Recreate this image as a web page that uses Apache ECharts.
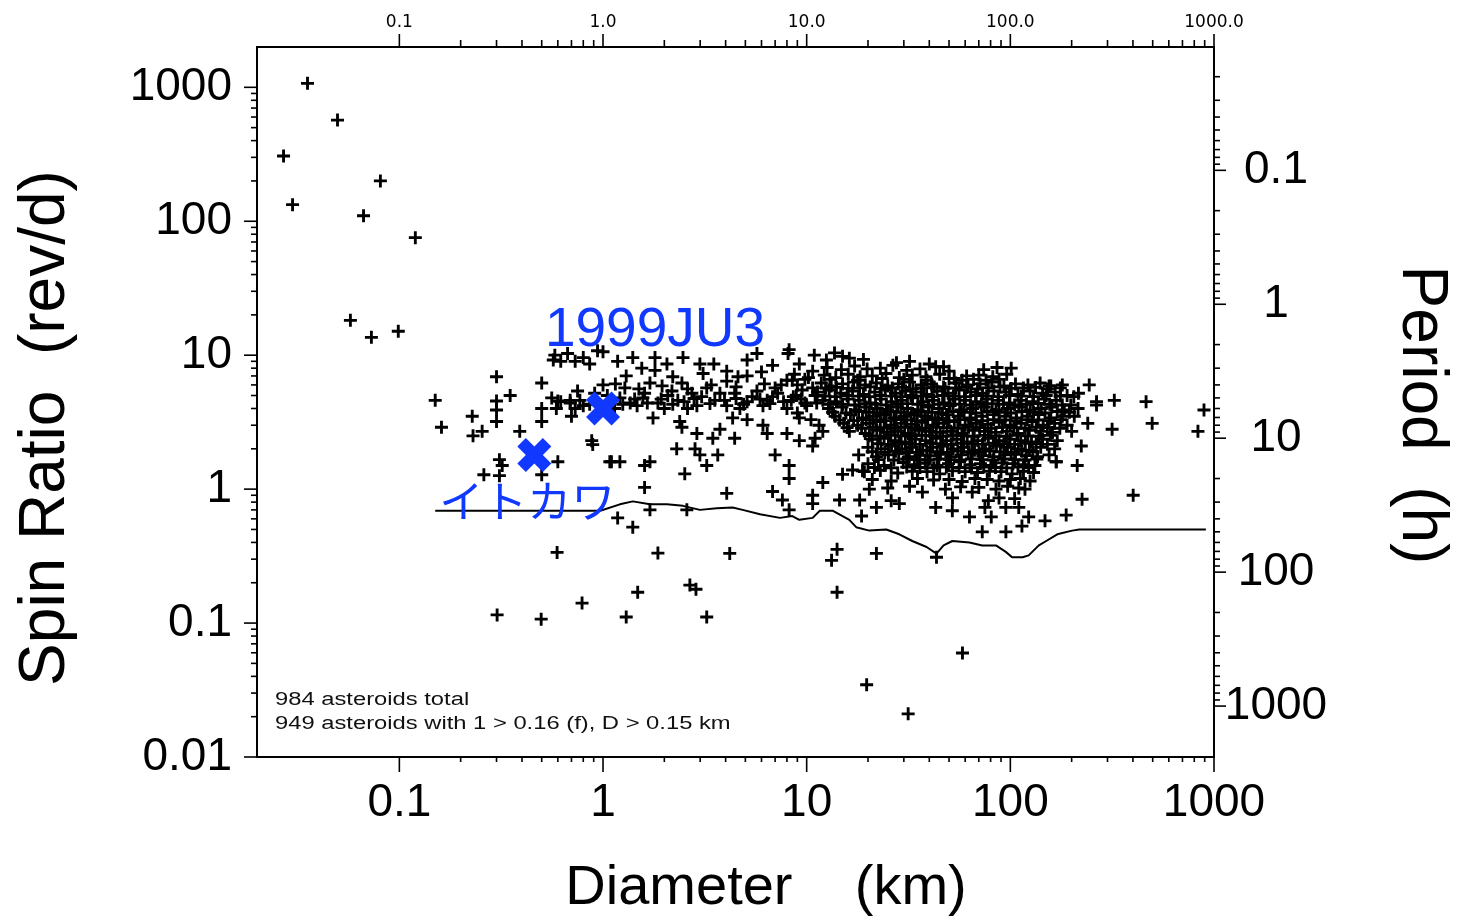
<!DOCTYPE html>
<html><head><meta charset="utf-8">
<script src="https://cdn.jsdelivr.net/npm/echarts@6/dist/echarts.min.js"></script>
<style>html,body{margin:0;padding:0;background:#fff}#c{width:1457px;height:922px}</style>
</head><body><div id="c"></div>
<script>
// ---------------- DATA (diameter km, spin rate rev/d) ----------------
const fastRotators = [[0.0354,1071],[0.0497,569],[0.027,307],[0.0807,200],[0.0299,133],[0.0667,110],[0.1198,75.4],[0.0575,18.2],[0.0729,13.6],[0.0988,15.1]];
const smallScatter = [[0.150,4.6],[0.161,2.9],[0.30,6.9],[0.35,5.0],[0.30,4.55],[0.30,3.9],[0.30,3.2],[0.50,6.2],[0.228,3.5],[0.23,2.5],[0.255,2.7],[0.39,2.7],[0.50,4.0],[0.50,3.2],[0.31,1.66],[0.32,1.5],[0.60,1.6],[0.26,1.28],[0.31,1.26],[0.50,1.28],[0.88,2.3],[0.89,2.15],[1.1,1.6],[0.69,4.6],[0.75,5.4],[0.80,4.2],[0.70,3.5],[0.60,4.55]];
const bandKm = [[0.58,10.0],[0.67,10.3],[0.80,9.6],[0.94,10.8],[0.62,9.0],[0.73,9.0],[0.86,8.6],[0.57,9.2],
 [1.0,10.6],[1.18,9.0],[1.40,9.6],[1.55,8.0],[1.8,9.6],[1.8,7.7],[2.06,8.6],[2.47,9.6],[2.99,8.6],[3.5,8.6],[4.05,7.6],[5.1,9.2],[5.1,7.0],[5.7,10.3],[6.8,8.4],[8.1,10.3],[8.0,6.5],[9.2,8.6],[10.7,7.6],[8.2,11],[10.9,10],
 [1.05,5.0],[1.28,5.7],[1.36,4.4],[1.57,4.8],[1.70,6.2],[1.86,4.4],[2.08,5.0],[2.33,4.6],[2.44,6.2],[2.73,5.2],[2.89,4.2],[3.23,5.7],[3.54,4.6],[4.05,6.4],[4.05,4.2],[4.43,5.2],[4.33,3.4],[5.1,4.5],[5.7,5.4],[6.1,4.2],[6.8,4.9],[7.5,6.0],[8.0,4.0],[8.9,5.0],[10,4.2],[10.7,5.7],[9.2,3.4],[1.76,3.4],[2.38,3.2],[1.14,4.0],[1.21,4.8],[1.47,4.2],[1.6,5.2],[2.0,4.0],[2.18,5.4],[2.6,4.0],[3.05,4.9],[3.75,5.2],[4.7,4.0],[5.4,4.9],[6.4,4.6],[7.2,5.2],[8.4,4.6],
 [1.1,4.6],[1.25,4.3],[1.43,4.7],[1.65,4.4],[1.93,4.7],[2.2,4.3],[2.5,4.5],[2.8,4.75],[3.35,4.35],[3.95,4.6],[4.5,4.75],[4.9,4.3],[5.9,4.7],[6.6,4.35],[7.7,4.5],[9.4,4.7],[11.2,4.4],
 [1.15,6.1],[1.5,5.6],[1.95,5.9],[2.6,5.6],[3.4,6.0],[4.5,5.8],[6.2,6.1],[7.0,5.7],[9.0,6.0],[9.8,6.6],[1.3,7.0],[2.2,6.9],[3.1,7.3],[4.6,6.9],[6.0,7.5],[8.7,7.2],
 [0.56,4.8],[0.62,4.5],[0.69,4.4],[0.77,4.6],[0.86,4.3],[0.59,4.0],[0.73,4.0],[0.91,5.2],[1.0,6.0],
 [8.5,6.5],[9.5,5.5],[10.2,6.8],[11,5.0],[9,3.7],[10.5,3.3],[11.5,3.0],[9.8,4.4],[8.6,4.9],[12,2.7],[11,2.4],
 [2.44,2.9],[2.89,2.6],[2.30,2.0],[2.83,2.0],[2.99,1.8],[3.23,1.5],[3.46,2.4],[3.75,2.8],[3.66,1.8],[4.43,2.4],[5.1,3.3],[6.1,3.0],[6.4,2.6],[7.0,1.8],[8.0,2.6],[9.2,2.3],[8.2,1.5],[8.2,1.2],[10.7,2.1],[1.08,1.6],[1.21,1.6],[1.6,1.5],[1.70,1.6],[2.52,1.3],[1.6,1.03],[4.05,0.93],[6.8,0.96],[7.6,0.83],[10.7,0.90],[10.7,0.78],[1.18,0.61],[1.40,0.52],[1.70,0.70],[2.58,0.70],[8.2,0.70]];
const cloudUpper = [
 [12.5,9.2],[13.7,10.4],[15,9.8],[16.2,9.5],[19,9.3],[27.6,8.8],[32,9.0],[40,8.6],[47,8.2],[101,8.0],
 [12.6,8.1],[14.8,7.8],[17.2,8.3],[19.8,7.9],[23,8.0],[26.5,8.4],[31,7.7],[36,7.9],[43,8.2],[50,7.6],[74,7.8],[86,8.1],
 [12.2,7.1],[13.9,6.8],[16,7.2],[18.3,6.9],[21,7.0],[24.5,7.3],[28.5,6.8],[33,7.1],[38.5,6.9],[45,7.2],[53,6.7],[61,7.0],[70,7.1],[82,6.9],[96,7.2],
 [13,6.6],[17.8,6.5],[23.5,6.7],[30,6.6],[39,6.5],[50,6.7],[58,6.5],[66,6.6],[76,6.5],[88,6.6],
 [11.8,6.2],[13.2,5.9],[15,6.1],[17,6.3],[19.4,6.0],[22,6.2],[25,5.9],[28.2,6.1],[32,6.3],[36.5,6.0],[41,6.1],[47,5.8],[54,6.2],[62,6.0],[71,6.1],[81,6.3],[93,5.9],[106,6.1],[122,6.0],[140,6.2],[158,5.9],[180,6.0],[244,6.0],
 [12.4,5.7],[14,5.75],[16,5.65],[18.2,5.7],[20.5,5.8],[23.2,5.65],[26.3,5.7],[29.5,5.75],[33.2,5.6],[37.5,5.7],[42.3,5.8],[47.8,5.65],[54,5.7],[61,5.75],[69,5.6],[78,5.7],[89,5.8],[101,5.65],[116,5.7],[133,5.75],[152,5.6],[176,5.7],
 [11.3,5.3],[12.9,5.5],[14.7,5.2],[16.8,5.4],[19,5.1],[21.6,5.3],[24.3,5.5],[27.3,5.2],[30.6,5.4],[34.4,5.3],[38.8,5.1],[43.7,5.4],[49.5,5.2],[56,5.5],[64,5.3],[73,5.2],[83,5.4],[95,5.3],[109,5.1],[125,5.4],[144,5.2],[166,5.3],[190,5.0],[216,5.2],
 [12.3,4.95],[13.8,4.9],[15.8,5.0],[18,4.95],[20.3,4.9],[23,5.0],[26,4.95],[29,4.9],[32.5,5.0],[36.5,4.95],[41.3,4.9],[46.5,5.0],[52.5,4.95],[59.5,4.9],[67.5,5.0],[76.5,4.95],[87,4.9],[99,5.0],[113,4.95],[130,4.9],[150,5.0],[176,4.95],[205,4.9],
 [12,4.6],[14,4.5],[16,4.7],[18.1,4.6],[20.5,4.4],[23.2,4.7],[26.1,4.5],[29.4,4.6],[33.1,4.8],[37.2,4.5],[42,4.6],[47.3,4.4],[53.4,4.7],[60.2,4.6],[68,4.5],[77,4.7],[87.5,4.6],[99.5,4.4],[113,4.6],[129,4.5],[147,4.7],[168,4.6],[198,4.25],[265,4.5],
 [13,4.3],[15,4.3],[17.2,4.25],[19.3,4.35],[21.8,4.3],[24.6,4.25],[27.7,4.3],[31.2,4.35],[35.2,4.3],[39.6,4.25],[44.5,4.3],[50,4.35],[56.4,4.3],[63.6,4.25],[72,4.3],[81.5,4.35],[92.5,4.3],[105,4.25],[120,4.3],[137,4.35],[156,4.3],[180,4.25],
 [12.8,4.0],[14.9,4.1],[17.4,3.9],[19.6,4.1],[22.2,4.0],[25,3.9],[28,4.1],[31.3,4.0],[35.2,3.9],[39.7,4.1],[44.8,4.0],[50.6,4.2],[57.5,3.9],[65.3,4.0],[74.5,4.1],[85,3.9],[96.8,4.0],[110,4.1],[125,3.9],[142,4.0],[160,4.1],[184,3.9],[215,4.0]];
const cloudLower = [
 [13.4,3.75],[15.6,3.7],[18,3.8],[20.3,3.75],[23,3.7],[25.8,3.8],[29,3.75],[32.6,3.7],[36.6,3.8],[41.2,3.75],[46.4,3.7],[52.4,3.8],[59.3,3.75],[67.6,3.7],[77,3.8],[88,3.75],[100.5,3.7],[114,3.8],[130,3.75],[148,3.7],[170,3.8],[195,3.75],
 [13.8,3.5],[16.4,3.6],[18.8,3.4],[21.2,3.5],[23.9,3.6],[26.8,3.4],[30.1,3.5],[33.8,3.6],[38,3.5],[42.8,3.4],[48.6,3.6],[55.5,3.5],[63.4,3.4],[72.6,3.5],[83,3.6],[94.5,3.5],[107,3.4],[122,3.5],[138,3.6],[158,3.4],[180,3.5],[206,3.5],
 [14.5,3.28],[17,3.25],[19.6,3.3],[22,3.28],[24.5,3.25],[27.5,3.3],[31,3.28],[34.9,3.25],[39.3,3.3],[44.3,3.28],[50,3.25],[56.6,3.3],[64,3.28],[72.8,3.25],[82.8,3.3],[94.2,3.28],[107,3.25],[121,3.3],[137,3.28],[155,3.25],[177,3.3],
 [15.2,3.1],[17.8,3.0],[20.4,3.1],[23,3.2],[25.9,3.0],[29.1,3.1],[32.7,3.05],[36.8,3.15],[41.6,3.0],[47,3.1],[53.1,3.2],[60,3.0],[68.1,3.1],[77.5,3.05],[88.2,3.15],[100,3.0],[113,3.1],[128,3.2],[145,3.0],[165,3.1],[190,3.0],[240,3.1],
 [15.8,2.88],[18.6,2.85],[21.2,2.9],[24,2.88],[27,2.85],[30.3,2.9],[34.1,2.88],[38.4,2.85],[43.3,2.9],[48.9,2.88],[55.2,2.85],[62.4,2.9],[70.8,2.88],[80.5,2.85],[91.5,2.9],[104,2.88],[118,2.85],[134,2.9],[152,2.88],[175,2.85],
 [16.2,2.7],[19.4,2.6],[22.1,2.75],[24.9,2.65],[28,2.7],[31.6,2.6],[35.5,2.75],[40.1,2.7],[45.2,2.65],[51,2.7],[57.8,2.6],[65.6,2.75],[74.6,2.7],[84.8,2.65],[96.3,2.7],[109,2.6],[124,2.75],[141,2.7],[161,2.65],[200,2.7],
 [20.3,2.5],[23,2.48],[25.9,2.52],[29.1,2.5],[32.7,2.48],[36.8,2.52],[41.4,2.5],[46.6,2.48],[52.4,2.52],[59,2.5],[66.5,2.48],[75,2.52],[84.7,2.5],[95.5,2.48],[108,2.52],[122,2.5],[138,2.48],[157,2.52],
 [21,2.35],[24,2.4],[27.2,2.3],[30.5,2.25],[34.2,2.35],[38.4,2.3],[43.2,2.4],[48.6,2.3],[54.6,2.35],[61.4,2.25],[69.2,2.3],[78,2.4],[88,2.3],[99.6,2.35],[112.5,2.3],[127,2.25],[144,2.35],[170,2.3],[223,2.1],
 [22.3,2.18],[25.2,2.16],[28.4,2.2],[32,2.18],[36,2.16],[40.5,2.2],[45.5,2.18],[51.2,2.16],[57.5,2.2],[64.7,2.18],[73,2.16],[82.5,2.2],[93,2.18],[105,2.16],[118.5,2.2],[134,2.18],[152,2.16],
 [20,2.05],[23.2,2.0],[26.1,2.1],[29.3,2.0],[33,2.05],[37.1,1.95],[41.6,2.05],[46.7,2.1],[52.4,2.0],[59,2.05],[66.7,1.95],[75.5,2.0],[85.5,2.1],[96.8,2.05],[109.5,2.0],[124,1.95],[141,2.05],[165,2.0],
 [21,1.9],[24.2,1.88],[27.3,1.92],[30.8,1.9],[34.6,1.88],[38.9,1.92],[43.7,1.9],[49.1,1.88],[55.2,1.92],[62.2,1.9],[70.2,1.88],[79.2,1.92],[89.3,1.9],[101,1.88],[114,1.92],[129,1.9],
 [18,1.8],[22,1.75],[25.2,1.8],[28.3,1.85],[31.9,1.75],[36,1.8],[40.4,1.78],[45.4,1.82],[51,1.75],[57.5,1.8],[65,1.85],[73.3,1.78],[83,1.75],[93.8,1.8],[106,1.82],[120,1.78],[136,1.75],[155,1.8],
 [22.5,1.66],[26.8,1.65],[31,1.68],[35,1.66],[39.6,1.65],[44.6,1.68],[50.4,1.66],[57,1.65],[64.4,1.68],[72.6,1.66],[82,1.65],[92.7,1.68],[105,1.66],[118,1.65],[135,1.68],
 [20,1.55],[24,1.5],[29.8,1.58],[33.8,1.52],[38.2,1.56],[43.6,1.5],[49.7,1.55],[56.3,1.6],[63.4,1.52],[71.3,1.55],[80.2,1.5],[91,1.57],[103,1.55],[116,1.52],[132,1.5],[168,1.6],[213,1.5],
 [21.5,1.45],[26,1.44],[31,1.46],[36,1.45],[42,1.44],[48.5,1.46],[56,1.45],[64.5,1.44],[74,1.46],[84.5,1.45],[96,1.44],[109,1.46],[123,1.45],
 [19.2,1.35],[23,1.38],[28,1.32],[33,1.36],[39,1.35],[45,1.3],[52,1.37],[60,1.35],[69,1.33],[79,1.36],[90,1.35],[102,1.3],[116,1.36],[130,1.33],
 [21,1.18],[26,1.15],[35,1.2],[42,1.17],[50,1.18],[58,1.14],[67,1.2],[77,1.18],[88,1.15],[100,1.18],[112,1.2],[125,1.15],
 [25,1.02],[32,1.05],[48,1.0],[57,1.04],[70,1.03],[85,1.0],[97,1.05],[110,1.02],[118,1.0]];
const cloudTail = [[12.0,1.12],[14.5,0.83],[15,1.29],[16.8,1.39],[18.8,1.37],[18.2,0.83],[18.6,0.63],[20.3,1.0],[22,0.73],[26,0.82],[28.5,0.78],[37,0.95],[43,0.73],[52,0.86],[51.9,0.69],[63,0.62],[65,0.95],[72.8,0.48],[75,0.73],[78,0.82],[80.6,0.62],[88,0.86],[95.1,0.48],[95,0.73],[105,0.85],[110,0.73],[114,0.53],[123,0.62],[148,0.58],[188,0.64],[225,0.84],[401,0.90]];
const largeBodies = [[324,4.6],[464,4.5],[316,2.8],[497,3.1],[893,3.9],[834,2.7],[168,1.6],[155,5.9],[265,4.25]];
const slowRotators = [[0.595,0.337],[1.86,0.333],[4.19,0.331],[0.302,0.115],[0.497,0.107],[0.789,0.141],[1.48,0.170],[2.67,0.192],[2.86,0.179],[1.30,0.111],[3.23,0.111],[13.25,0.294],[14.1,0.355],[22.0,0.331],[14.1,0.170],[19.7,0.0346],[31.5,0.021],[58.2,0.0598],[43.4,0.310]];
// limit curve
const limitCurve = [[0.15,0.69],[0.97,0.69],[1.21,0.77],[1.40,0.81],[1.70,0.77],[2.06,0.77],[2.47,0.75],[2.99,0.70],[3.62,0.72],[4.33,0.73],[4.85,0.70],[5.9,0.65],[7.4,0.61],[8.5,0.63],[9.2,0.59],[10.7,0.61],[11.6,0.69],[13.4,0.69],[16.2,0.59],[17.5,0.52],[20.3,0.49],[24.6,0.50],[28.5,0.46],[33,0.41],[38.8,0.37],[43.4,0.33],[47,0.38],[51.9,0.41],[63,0.40],[72.8,0.38],[85,0.38],[95,0.34],[102,0.31],[115,0.31],[123,0.32],[138,0.38],[150,0.41],[170,0.46],[201,0.49],[218,0.50],[912,0.50]];
// highlighted targets
const targetNames = ['1999JU3','イトカワ'];
const targetValues = [[1.0,4.0],[0.46,1.8]];
// axes
const diameterTickValues = [0.1,1,10,100,1000];
const diameterTickLabels = ['0.1','1','10','100','1000'];
const topTickLabels = ['0.1','1.0','10.0','100.0','1000.0'];
const diameterMinorTicks = [0.2,0.3,0.4,0.5,0.6,0.7,0.8,0.9,2,3,4,5,6,7,8,9,20,30,40,50,60,70,80,90,200,300,400,500,600,700,800,900];
const spinTickValues = [0.01,0.1,1,10,100,1000];
const spinTickLabels = ['0.01','0.1','1','10','100','1000'];
const spinMinorTicks = [0.02,0.03,0.04,0.05,0.06,0.07,0.08,0.09,0.2,0.3,0.4,0.5,0.6,0.7,0.8,0.9,2,3,4,5,6,7,8,9,20,30,40,50,60,70,80,90,200,300,400,500,600,700,800,900];
const periodTickValues = [0.1,1,10,100,1000];
const periodTickLabels = ['0.1','1','10','100','1000'];
const periodMinorTicks = [0.02,0.03,0.04,0.05,0.06,0.07,0.08,0.09,0.2,0.3,0.4,0.5,0.6,0.7,0.8,0.9,2,3,4,5,6,7,8,9,20,30,40,50,60,70,80,90,200,300,400,500,600,700,800,900];
const noteLines = ['984 asteroids total','949 asteroids with 1 > 0.16 (f), D > 0.15 km'];

// ---------------- CHART ----------------
const X_MIN = 0.02, X_MAX = 1000, S_MIN = 0.01, S_MAX = 2000;
const HOURS_PER_DAY = 24;
const P_MIN = HOURS_PER_DAY / S_MAX, P_MAX = HOURS_PER_DAY / S_MIN;
const BLUE = '#1038ff';
const FONT = '"Liberation Sans", Arial, sans-serif';

function labelFor(values, labels) {
  return function (v) {
    const i = values.findIndex(t => Math.abs(Math.log10(t) - Math.log10(v)) < 1e-6);
    return i < 0 ? '' : labels[i];
  };
}
const PLUS = 'path://M3.9,0H6.1V3.9H10V6.1H6.1V10H3.9V6.1H0V3.9H3.9Z';
const XMARK = 'path://M25,0L50,25L75,0L100,25L75,50L100,75L75,100L50,75L25,100L0,75L25,50L0,25Z';

function tickLine(x1, y1, x2, y2) {
  return { type: 'line', shape: { x1, y1, x2, y2 }, style: { stroke: '#000', lineWidth: 1.6 } };
}

const chart = echarts.init(document.getElementById('c'));
const allPoints = [].concat(fastRotators, smallScatter, bandKm, cloudUpper, cloudLower, cloudTail, largeBodies, slowRotators);

chart.setOption({
  animation: false,
  backgroundColor: '#fff',
  grid: { left: 257, right: 243, top: 47, bottom: 165, show: true, borderColor: '#000', borderWidth: 2, backgroundColor: 'transparent' },
  xAxis: [
    { type: 'log', position: 'bottom', min: X_MIN, max: X_MAX, axisLine: { show: false }, axisTick: { show: false }, splitLine: { show: false },
      axisLabel: { formatter: labelFor(diameterTickValues, diameterTickLabels), fontSize: 46, fontFamily: FONT, color: '#000', margin: 23 } },
    { type: 'log', position: 'top', min: X_MIN, max: X_MAX, axisLine: { show: false }, axisTick: { show: false }, splitLine: { show: false },
      axisLabel: { formatter: labelFor(diameterTickValues, topTickLabels), fontSize: 17, fontFamily: '"DejaVu Sans", sans-serif', color: '#000', margin: 16 } }
  ],
  yAxis: [
    { type: 'log', position: 'left', min: S_MIN, max: S_MAX, axisLine: { show: false }, axisTick: { show: false }, splitLine: { show: false },
      axisLabel: { formatter: labelFor(spinTickValues, spinTickLabels), fontSize: 46, fontFamily: FONT, color: '#000', margin: 25 } },
    { type: 'log', position: 'right', inverse: true, min: P_MIN, max: P_MAX, axisLine: { show: false }, axisTick: { show: false }, splitLine: { show: false },
      axisLabel: { formatter: labelFor(periodTickValues, periodTickLabels), fontSize: 46, fontFamily: FONT, color: '#000', margin: 62, align: 'center' } }
  ],
  graphic: [
    { type: 'text', x: 46, y: 428, rotation: Math.PI / 2, style: { text: 'Spin Ratio  (rev/d)', font: '64px ' + FONT, fill: '#000', textAlign: 'center', textVerticalAlign: 'middle' } },
    { type: 'text', x: 1421, y: 415, rotation: -Math.PI / 2, style: { text: 'Period  (h)', font: '64px ' + FONT, fill: '#000', textAlign: 'center', textVerticalAlign: 'middle' } },
    { type: 'text', x: 766, y: 889, style: { text: 'Diameter    (km)', font: '56px ' + FONT, fill: '#000', textAlign: 'center', textVerticalAlign: 'middle' } },
    { type: 'text', x: 275, y: 700, scaleX: 1.32, style: { text: noteLines[0], font: '18px ' + FONT, fill: '#111', textAlign: 'left', textVerticalAlign: 'middle' } },
    { type: 'text', x: 275, y: 724, scaleX: 1.32, style: { text: noteLines[1], font: '18px ' + FONT, fill: '#111', textAlign: 'left', textVerticalAlign: 'middle' } }
  ],
  series: [
    { name: 'asteroids', type: 'scatter', data: allPoints, symbol: PLUS, symbolSize: 13, itemStyle: { color: '#000', opacity: 1 }, silent: true, z: 2, large: false },
    { name: 'limit', type: 'line', data: limitCurve, showSymbol: false, symbol: 'none', lineStyle: { color: '#000', width: 2 }, silent: true, z: 3 },
    { name: 'targets', type: 'scatter', z: 6, symbol: XMARK, symbolSize: 34, itemStyle: { color: BLUE, opacity: 1 },
      data: targetValues.map((v, i) => ({ value: v, name: targetNames[i],
        label: { show: true, formatter: targetNames[i], position: 'inside', color: BLUE, fontFamily: i === 0 ? FONT : '"Noto Sans CJK JP", sans-serif',
          fontSize: i === 0 ? 55 : 44, offset: i === 0 ? [52, -78] : [-7, 46] } })) },
    { name: 'xticks', type: 'custom', xAxisIndex: 0, yAxisIndex: 0, silent: true, clip: false, z: 5,
      data: diameterTickValues.map(v => [v, 1, 1]).concat(diameterMinorTicks.map(v => [v, 1, 0])),
      encode: { x: 0, y: 1 },
      renderItem: (params, api) => {
        const v = api.value(0), major = api.value(2);
        const b = api.coord([v, S_MIN]), t = api.coord([v, S_MAX]);
        return { type: 'group', children: [
          tickLine(b[0], b[1], b[0], b[1] + (major ? 15 : 5)),
          tickLine(t[0], t[1], t[0], t[1] - (major ? 13 : 7))] };
      } },
    { name: 'spinticks', type: 'custom', xAxisIndex: 0, yAxisIndex: 0, silent: true, clip: false, z: 5,
      data: spinTickValues.map(v => [1, v, 1]).concat(spinMinorTicks.map(v => [1, v, 0])),
      encode: { x: 0, y: 1 },
      renderItem: (params, api) => {
        const v = api.value(1), major = api.value(2);
        const p = api.coord([X_MIN, v]);
        return tickLine(p[0], p[1], p[0] - (major ? 13 : 6), p[1]);
      } },
    { name: 'periodticks', type: 'custom', xAxisIndex: 0, yAxisIndex: 1, silent: true, clip: false, z: 5,
      data: periodTickValues.map(v => [1, v, 1]).concat(periodMinorTicks.map(v => [1, v, 0])),
      encode: { x: 0, y: 1 },
      renderItem: (params, api) => {
        const v = api.value(1), major = api.value(2);
        const p = api.coord([X_MAX, v]);
        return tickLine(p[0], p[1], p[0] + (major ? 12 : 6), p[1]);
      } }
  ]
});
</script>
</body></html>
